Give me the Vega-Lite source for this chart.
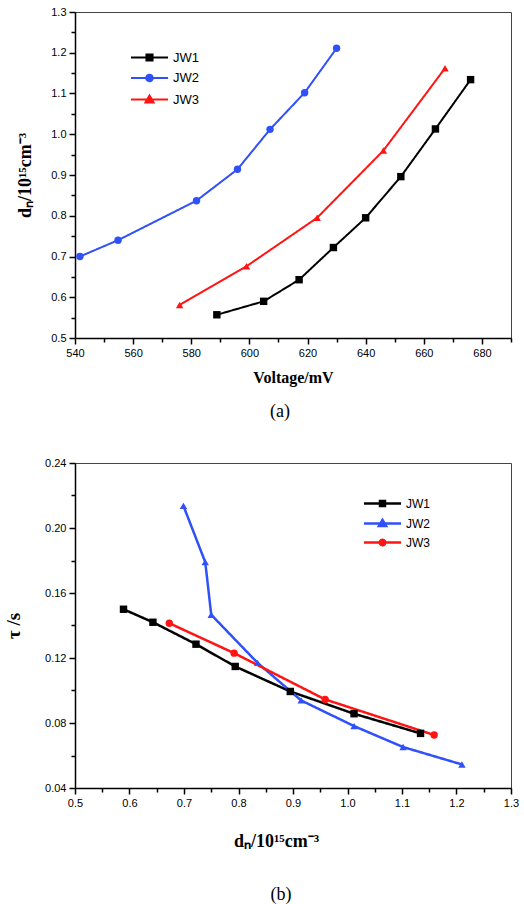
{
  "$schema": "https://vega.github.io/schema/vega-lite/v6.json",
  "background": "white",
  "padding": {"left": 4, "top": 5, "right": 4, "bottom": 0},
  "spacing": 34,
  "config": {
    "view": {"stroke": "#444444", "strokeWidth": 1},
    "axis": {
      "grid": false,
      "domainColor": "#000000",
      "domainWidth": 1.5,
      "tickColor": "#000000",
      "tickWidth": 1.5,
      "labelFont": "Liberation Sans",
      "labelFontSize": 11,
      "labelColor": "#000000",
      "labelPadding": 3,
      "labelFlush": false,
      "labelOverlap": false,
      "titleFont": "Liberation Serif",
      "titleFontWeight": "bold",
      "titleFontSize": 16,
      "titleColor": "#000000"
    },
    "title": {"font": "Liberation Serif", "fontSize": 18, "fontWeight": "normal", "color": "#000000"}
  },
  "resolve": {
    "scale": {"color": "independent", "shape": "independent", "strokeDash": "independent"},
    "legend": {"color": "independent", "shape": "independent", "strokeDash": "independent"}
  },
  "vconcat": [
    {
      "width": 436,
      "height": 326,
      "title": {"text": "(a)", "orient": "bottom", "offset": 18, "dx": -13},
      "data": {
        "values": [
          {"series": "JW1", "voltage": 588.8, "dn": 0.557},
          {"series": "JW1", "voltage": 604.9, "dn": 0.590},
          {"series": "JW1", "voltage": 617.1, "dn": 0.643},
          {"series": "JW1", "voltage": 628.9, "dn": 0.722},
          {"series": "JW1", "voltage": 640.0, "dn": 0.795},
          {"series": "JW1", "voltage": 652.1, "dn": 0.896},
          {"series": "JW1", "voltage": 664.0, "dn": 1.013},
          {"series": "JW1", "voltage": 676.1, "dn": 1.134},
          {"series": "JW2", "voltage": 541.7, "dn": 0.700},
          {"series": "JW2", "voltage": 554.8, "dn": 0.740},
          {"series": "JW2", "voltage": 581.8, "dn": 0.837},
          {"series": "JW2", "voltage": 595.9, "dn": 0.914},
          {"series": "JW2", "voltage": 607.1, "dn": 1.012},
          {"series": "JW2", "voltage": 619.0, "dn": 1.102},
          {"series": "JW2", "voltage": 630.0, "dn": 1.211},
          {"series": "JW3", "voltage": 576.0, "dn": 0.581},
          {"series": "JW3", "voltage": 599.0, "dn": 0.676},
          {"series": "JW3", "voltage": 623.3, "dn": 0.795},
          {"series": "JW3", "voltage": 646.1, "dn": 0.960},
          {"series": "JW3", "voltage": 667.3, "dn": 1.162}
        ]
      },
      "encoding": {
        "x": {
          "field": "voltage",
          "type": "quantitative",
          "scale": {"domain": [540, 690], "nice": false, "zero": false},
          "axis": {
            "title": "Voltage/mV",
            "titlePadding": 11,
            "values": [540, 550, 560, 570, 580, 590, 600, 610, 620, 630, 640, 650, 660, 670, 680, 690],
            "labelExpr": "datum.value % 20 === 0 && datum.value < 690 ? datum.label : ''",
            "tickSize": {"condition": {"test": "datum.value % 20 === 0", "value": 6}, "value": 4}
          }
        },
        "y": {
          "field": "dn",
          "type": "quantitative",
          "scale": {"domain": [0.5, 1.3], "nice": false, "zero": false},
          "axis": {
            "title": "dₙ/10¹⁵cm⁻³",
            "titleFontSize": 18,
            "titlePadding": 16,
            "values": [0.5, 0.55, 0.6, 0.65, 0.7, 0.75, 0.8, 0.85, 0.9, 0.95, 1.0, 1.05, 1.1, 1.15, 1.2, 1.25, 1.3],
            "labelExpr": "abs(datum.value * 10 - round(datum.value * 10)) < 0.001 ? format(datum.value, '.1f') : ''",
            "tickSize": {"condition": {"test": "abs(datum.value * 10 - round(datum.value * 10)) < 0.001", "value": 6}, "value": 4}
          }
        }
      },
      "layer": [
        {
          "mark": {"type": "line", "strokeWidth": 2},
          "encoding": {
            "color": {
              "field": "series",
              "type": "nominal",
              "scale": {"range": ["#000000", "#3050F8", "#FF1414"]},
              "legend": null
            },
            "strokeDash": {
              "field": "series",
              "type": "nominal",
              "scale": {"domain": ["JW1", "JW2", "JW3"], "range": [[1, 0], [1, 0], [1, 0]]},
              "legend": {
                "orient": "none",
                "legendX": 66,
                "legendY": 37,
                "title": null,
                "padding": 0,
                "symbolSize": 196,
                "symbolStrokeWidth": 2.2,
                "labelOffset": 15,
                "rowPadding": 4.5,
                "labelFont": "Liberation Sans",
                "labelFontSize": 13,
                "labelColor": "#000000",
                "encode": {
                  "symbols": {
                    "update": {
                      "shape": {"signal": "datum.value === 'JW1' ? 'M-2.65,0H2.65M-0.42,-0.42H0.42V0.42H-0.42Z' : datum.value === 'JW2' ? 'M-2.65,0H2.65M-0.45,0A0.45,0.45 0 1,0 0.45,0A0.45,0.45 0 1,0 -0.45,0Z' : 'M-2.65,0H2.65M0,-0.55L0.55,0.4L-0.55,0.4Z'"},
                      "fill": {"signal": "datum.value === 'JW1' ? '#000000' : datum.value === 'JW2' ? '#3050F8' : '#FF1414'"},
                      "stroke": {"signal": "datum.value === 'JW1' ? '#000000' : datum.value === 'JW2' ? '#3050F8' : '#FF1414'"},
                      "strokeWidth": {"value": 2.2},
                      "opacity": {"value": 1}
                    }
                  }
                }
              }
            }
          }
        },
        {
          "mark": {"type": "point", "filled": true, "opacity": 1, "size": 55},
          "encoding": {
            "color": {
              "field": "series",
              "type": "nominal",
              "scale": {"range": ["#000000", "#3050F8", "#FF1414"]},
              "legend": null
            },
            "shape": {
              "field": "series",
              "type": "nominal",
              "scale": {"range": ["square", "circle", "triangle-up"]},
              "legend": null
            }
          }
        }
      ]
    },
    {
      "width": 436,
      "height": 325,
      "title": {"text": "(b)", "orient": "bottom", "offset": 36, "dx": -12},
      "data": {
        "values": [
          {"series": "JW1", "dn": 0.589, "tau": 0.1500},
          {"series": "JW1", "dn": 0.643, "tau": 0.1420},
          {"series": "JW1", "dn": 0.722, "tau": 0.1285},
          {"series": "JW1", "dn": 0.794, "tau": 0.1148},
          {"series": "JW1", "dn": 0.895, "tau": 0.0994},
          {"series": "JW1", "dn": 1.012, "tau": 0.0857},
          {"series": "JW1", "dn": 1.134, "tau": 0.0736},
          {"series": "JW2", "dn": 0.699, "tau": 0.2136},
          {"series": "JW2", "dn": 0.739, "tau": 0.1790},
          {"series": "JW2", "dn": 0.750, "tau": 0.1466},
          {"series": "JW2", "dn": 0.835, "tau": 0.1170},
          {"series": "JW2", "dn": 0.915, "tau": 0.0939},
          {"series": "JW2", "dn": 1.012, "tau": 0.0781},
          {"series": "JW2", "dn": 1.102, "tau": 0.0652},
          {"series": "JW2", "dn": 1.210, "tau": 0.0545},
          {"series": "JW3", "dn": 0.673, "tau": 0.1414},
          {"series": "JW3", "dn": 0.792, "tau": 0.1230},
          {"series": "JW3", "dn": 0.959, "tau": 0.0945},
          {"series": "JW3", "dn": 1.159, "tau": 0.0726}
        ]
      },
      "encoding": {
        "x": {
          "field": "dn",
          "type": "quantitative",
          "scale": {"domain": [0.5, 1.3], "nice": false, "zero": false},
          "axis": {
            "title": "dₙ/10¹⁵cm⁻³",
            "titleFontSize": 18,
            "titlePadding": 24,
            "titleX": 201,
            "values": [0.5, 0.55, 0.6, 0.65, 0.7, 0.75, 0.8, 0.85, 0.9, 0.95, 1.0, 1.05, 1.1, 1.15, 1.2, 1.25, 1.3],
            "labelExpr": "abs(datum.value * 10 - round(datum.value * 10)) < 0.001 ? format(datum.value, '.1f') : ''",
            "tickSize": {"condition": {"test": "abs(datum.value * 10 - round(datum.value * 10)) < 0.001", "value": 6}, "value": 4}
          }
        },
        "y": {
          "field": "tau",
          "type": "quantitative",
          "scale": {"domain": [0.04, 0.24], "nice": false, "zero": false},
          "axis": {
            "title": "τ /s",
            "titleFontSize": 19,
            "titlePadding": 21,
            "values": [0.04, 0.06, 0.08, 0.1, 0.12, 0.14, 0.16, 0.18, 0.2, 0.22, 0.24],
            "labelExpr": "abs(datum.value * 25 - round(datum.value * 25)) < 0.001 ? format(datum.value, '.2f') : ''",
            "tickSize": {"condition": {"test": "abs(datum.value * 25 - round(datum.value * 25)) < 0.001", "value": 6}, "value": 4}
          }
        }
      },
      "layer": [
        {
          "mark": {"type": "line", "strokeWidth": 2.5},
          "encoding": {
            "color": {
              "field": "series",
              "type": "nominal",
              "scale": {"range": ["#000000", "#3050F8", "#FF1414"]},
              "legend": null
            },
            "strokeDash": {
              "field": "series",
              "type": "nominal",
              "scale": {"domain": ["JW1", "JW2", "JW3"], "range": [[1, 0], [1, 0], [1, 0]]},
              "legend": {
                "orient": "none",
                "legendX": 299,
                "legendY": 32,
                "title": null,
                "padding": 0,
                "symbolSize": 196,
                "symbolStrokeWidth": 2.6,
                "labelOffset": 15,
                "rowPadding": 2,
                "labelFont": "Liberation Sans",
                "labelFontSize": 12,
                "labelColor": "#000000",
                "encode": {
                  "symbols": {
                    "update": {
                      "shape": {"signal": "datum.value === 'JW1' ? 'M-2.65,0H2.65M-0.35,-0.35H0.35V0.35H-0.35Z' : datum.value === 'JW2' ? 'M-2.65,0H2.65M0,-0.5L0.5,0.35L-0.5,0.35Z' : 'M-2.65,0H2.65M-0.38,0A0.38,0.38 0 1,0 0.38,0A0.38,0.38 0 1,0 -0.38,0Z'"},
                      "fill": {"signal": "datum.value === 'JW1' ? '#000000' : datum.value === 'JW2' ? '#3050F8' : '#FF1414'"},
                      "stroke": {"signal": "datum.value === 'JW1' ? '#000000' : datum.value === 'JW2' ? '#3050F8' : '#FF1414'"},
                      "strokeWidth": {"value": 2.6},
                      "opacity": {"value": 1}
                    }
                  }
                }
              }
            }
          }
        },
        {
          "mark": {"type": "point", "filled": true, "opacity": 1, "size": 55},
          "encoding": {
            "color": {
              "field": "series",
              "type": "nominal",
              "scale": {"range": ["#000000", "#3050F8", "#FF1414"]},
              "legend": null
            },
            "shape": {
              "field": "series",
              "type": "nominal",
              "scale": {"range": ["square", "triangle-up", "circle"]},
              "legend": null
            }
          }
        }
      ]
    }
  ]
}
